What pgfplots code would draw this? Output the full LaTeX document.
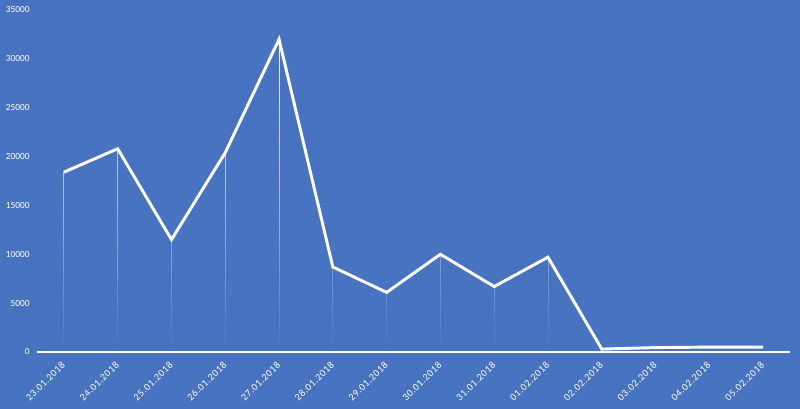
\documentclass[border=0pt]{standalone}
\usepackage{fontspec}
\setmainfont{Carlito}
\newfontfamily\xlab[LetterSpace=6]{Carlito}
\usepackage{pgfplots}
\pgfplotsset{compat=1.18}
\usetikzlibrary{fadings}
\definecolor{bgblue}{HTML}{4873C0}
\begin{document}
\begin{tikzpicture}
\fill[bgblue] (0,0) rectangle (600pt,306.75pt);
\begin{axis}[
  at={(27.75pt,42.75pt)}, anchor=south west,
  scale only axis, width=564.75pt, height=256.5pt,
  xmin=-0.5, xmax=13.5, ymin=0, ymax=35000,
  axis line style={draw=none},
  axis x line*=bottom, axis y line*=left,
  xtick={0,...,13},
  xticklabels={23.01.2018,24.01.2018,25.01.2018,26.01.2018,27.01.2018,28.01.2018,29.01.2018,30.01.2018,31.01.2018,01.02.2018,02.02.2018,03.02.2018,04.02.2018,05.02.2018},
  ytick={0,5000,...,35000},
  major tick length=0pt,
  scaled y ticks=false,
  /pgf/number format/assume math mode=true,
  yticklabel={\pgfmathprintnumber[fixed,1000 sep={}]{\tick}},
  yticklabel style={font=\fontsize{7}{8}\selectfont, text=white, xshift=-2pt},
  xticklabel style={font=\xlab\fontsize{7.5}{9}\selectfont, text=white, xshift=0.5pt, yshift=-7.5pt, rotate=45, anchor=east, inner sep=1pt},
  clip=false,
]
\draw[white, line width=1pt] (axis cs:-0.5,0) -- (axis cs:13.5,0);
\addplot[ycomb, white, line width=0.6pt, no markers, path fading=south] coordinates {
(0,18400) (1,20800) (2,11500) (3,20400) (4,32000) (5,8700) (6,6100) (7,10000) (8,6700) (9,9700) (10,300) (11,450) (12,500) (13,500)};
\addplot[white, line width=2.2pt, no markers, line join=miter] coordinates {
(0,18400) (1,20800) (2,11500) (3,20400) (4,32000) (5,8700) (6,6100) (7,10000) (8,6700) (9,9700) (10,300) (11,450) (12,500) (13,500)};
\end{axis}
\pgfresetboundingbox
\useasboundingbox (0,0) rectangle (600pt,306.75pt);
\end{tikzpicture}
\end{document}
